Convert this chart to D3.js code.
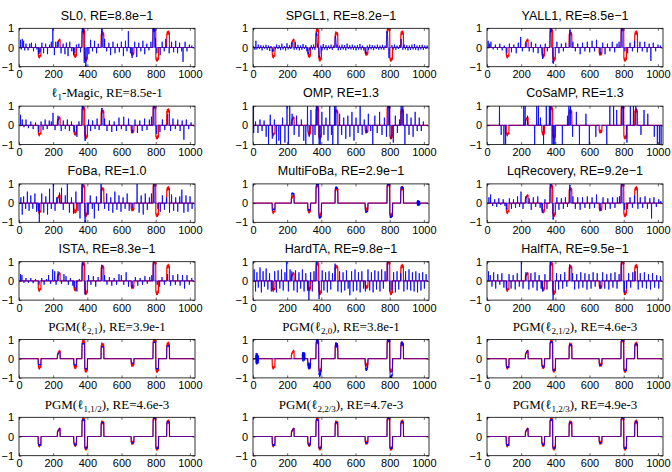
<!DOCTYPE html>
<html><head><meta charset="utf-8">
<script src="https://cdn.jsdelivr.net/npm/d3@7"></script>
<style>body{margin:0;background:#fff}svg{display:block}</style>
</head><body>
<svg id="chart" width="672" height="472"></svg>
<script>
const N = 1024;
const xTicks = [0, 200, 400, 600, 800, 1000];
const yTicks = [-1, 0, 1];

// ground-truth block-sparse signal (block starts, 16 values per block)
const blockStarts = [112, 224, 320, 368, 384, 480, 656, 784, 800, 864];
const trueBlocks = [
  [-0.38,-0.42,-0.46,-0.44,-0.47,-0.43,-0.40,-0.45,-0.48,-0.44,-0.41,-0.46,-0.45,-0.42,-0.44,-0.47],
  [0.22,0.26,0.25,0.29,0.31,0.30,0.34,0.33,0.36,0.38,0.37,0.40,0.39,0.42,0.41,0.43],
  [-0.32,-0.36,-0.40,-0.38,-0.43,-0.41,-0.44,-0.47,-0.45,-0.42,-0.46,-0.44,-0.41,-0.45,-0.43,-0.40],
  [0.80,0.84,0.88,0.85,0.89,0.86,0.83,0.88,0.91,0.87,0.85,0.89,0.86,0.84,0.88,0.85],
  [-0.54,-0.58,-0.62,-0.59,-0.63,-0.60,-0.57,-0.62,-0.64,-0.61,-0.58,-0.62,-0.59,-0.57,-0.61,-0.60],
  [0.66,0.70,0.74,0.71,0.75,0.72,0.69,0.74,0.76,0.73,0.70,0.74,0.72,0.69,0.73,0.71],
  [-0.27,-0.30,-0.34,-0.32,-0.35,-0.33,-0.30,-0.34,-0.36,-0.33,-0.31,-0.34,-0.32,-0.30,-0.33,-0.31],
  [0.88,0.92,0.95,0.93,0.97,0.94,0.91,0.96,0.98,0.95,0.92,0.96,0.94,0.91,0.95,0.93],
  [-0.55,-0.59,-0.63,-0.60,-0.64,-0.61,-0.58,-0.63,-0.65,-0.62,-0.59,-0.63,-0.60,-0.58,-0.62,-0.61],
  [0.70,0.73,0.77,0.75,0.78,0.76,0.73,0.77,0.80,0.76,0.74,0.78,0.75,0.73,0.77,0.75]
];

const titles = [
  "SL0, RE=8.8e\u22121", "SPGL1, RE=8.2e\u22121", "YALL1, RE=8.5e\u22121",
  "\u2113_{1}-Magic, RE=8.5e-1", "OMP, RE=1.3", "CoSaMP, RE=1.3",
  "FoBa, RE=1.0", "MultiFoBa, RE=2.9e\u22121", "LqRecovery, RE=9.2e\u22121",
  "ISTA, RE=8.3e\u22121", "HardTA, RE=9.8e\u22121", "HalfTA, RE=9.5e\u22121",
  "PGM(\u2113_{2,1}), RE=3.9e-1", "PGM(\u2113_{2,0}), RE=3.8e-1", "PGM(\u2113_{2,1/2}), RE=4.6e-3",
  "PGM(\u2113_{1,1/2}), RE=4.6e-3", "PGM(\u2113_{2,2/3}), RE=4.7e-3", "PGM(\u2113_{1,2/3}), RE=4.9e-3"
];
const serifTitles = [3, 12, 13, 14, 15, 16, 17];

// recovered signals: [startIndex, value or [values...]]
const sl0 = [[8,0.4],[13,-0.1],[18,0.45],[26,0.35],[33,-0.15],[40,0.2],[52,-0.15],[62,0.2],[72,0.25],[84,-0.2],[96,0.2],[104,-0.1],[114,[-0.3,-0.15,-0.35]],[122,-0.25],[133,0.25],[143,-0.3],[155,0.2],[166,-0.35],[178,0.15],[188,0.3],[197,1.0],[206,-0.4],[214,0.3],[228,0.3],[245,-0.3],[257,0.2],[268,-0.35],[276,0.25],[286,-0.45],[296,0.3],[308,-0.2],[318,-0.4],[326,-0.3],[335,0.15],[349,0.2],[359,-0.25],[368,[0.6,1.0,0.9,1.0,0.8,1.0,0.95,1.0,0.7,1.0]],[380,[-0.5,-0.8]],[388,[-0.6,-1.0,-0.9,-1.05,-0.7,-0.5]],[408,-0.35],[418,0.4],[429,-0.2],[441,0.35],[453,-0.3],[463,0.2],[482,[0.7,0.95,0.8,1.0,0.9,0.6]],[500,0.45],[512,-0.2],[525,0.25],[535,-0.4],[549,0.3],[561,-0.3],[575,0.2],[586,-0.25],[598,0.3],[610,-0.45],[622,0.35],[631,-0.2],[639,0.85],[651,-0.3],[660,[-0.4,-0.55,-0.3]],[676,0.3],[688,-0.5],[700,0.25],[712,-0.2],[724,0.35],[735,-0.35],[747,0.2],[759,-0.15],[771,0.3],[782,[0.7,1.0,0.9,1.0,0.85,1.0,0.9,1.0,0.8,1.0,0.6]],[798,0.5],[806,-0.3],[825,-0.4],[837,0.3],[849,-0.2],[858,0.45],[878,-0.3],[892,0.3],[904,-0.25],[916,0.35],[927,-0.3],[939,0.25],[951,-0.2],[959,-0.75],[971,0.3],[982,-0.2],[996,0.15],[1010,0.1]];

const spgl1 = [[3,0.08],[10,-0.12],[16,0.35],[22,-0.1],[30,0.15],[37,-0.08],[45,0.12],[52,-0.15],[60,0.1],[67,-0.06],[75,0.14],[82,-0.12],[90,0.1],[97,-0.18],[104,0.08],[112,[-0.12,-0.2,-0.15,-0.22,-0.1,-0.18,-0.15,-0.2]],[122,0.05],[130,-0.1],[137,0.15],[145,-0.08],[152,0.12],[160,-0.14],[168,0.2],[175,-0.1],[183,0.08],[190,-0.16],[198,0.22],[205,-0.1],[213,0.12],[220,-0.08],[226,[0.15,0.22,0.18,0.25,0.2,0.15]],[240,-0.12],[247,0.3],[254,-0.1],[262,0.14],[270,-0.15],[277,0.1],[285,-0.12],[292,0.18],[300,-0.08],[308,0.12],[314,-0.2],[320,[-0.2,-0.3,-0.25,-0.32,-0.28,-0.35,-0.3,-0.22]],[332,-0.15],[340,0.12],[347,-0.1],[354,0.15],[361,-0.12],[366,[0.3,0.5,0.65,0.75,0.7,0.78,0.6,0.72,0.55,0.4]],[378,0.2],[384,[-0.2,-0.4,-0.5,-0.45,-0.55,-0.48,-0.35,-0.25]],[396,0.1],[403,-0.15],[410,0.18],[418,-0.1],[426,0.12],[433,-0.14],[441,0.1],[448,-0.08],[456,0.15],[463,-0.12],[470,0.1],[478,[0.3,0.45,0.55,0.5,0.6,0.5,0.42,0.3]],[490,0.15],[498,-0.15],[505,0.1],[512,-0.12],[520,0.15],[527,-0.1],[535,0.12],[542,-0.15],[550,0.2],[557,-0.08],[565,0.12],[572,-0.1],[580,0.15],[587,-0.12],[595,0.1],[602,-0.15],[610,0.12],[617,-0.1],[625,0.18],[632,-0.12],[640,0.1],[647,-0.15],[656,[-0.2,-0.3,-0.25,-0.32,-0.28]],[668,0.1],[675,-0.12],[682,0.15],[690,-0.1],[697,0.12],[705,-0.14],[712,0.1],[720,-0.08],[727,0.15],[735,-0.12],[742,0.1],[750,-0.1],[757,0.14],[765,-0.12],[772,0.1],[780,[0.4,0.6,0.8,0.85,0.75,0.82,0.7,0.55,0.3]],[792,[-0.2,-0.4,-0.5,-0.55,-0.45,-0.35,-0.2]],[812,0.12],[820,-0.1],[827,0.15],[835,-0.12],[842,0.1],[850,-0.08],[857,0.12],[864,[0.2,0.35,0.45,0.4,0.3,0.2]],[876,-0.12],[884,0.15],[891,-0.1],[899,0.12],[906,-0.15],[914,0.1],[921,-0.12],[929,0.15],[936,-0.1],[944,0.18],[951,-0.12],[959,0.1],[966,-0.15],[974,0.12],[981,-0.1],[989,0.14],[996,-0.12],[1004,0.1],[1011,-0.08],[1018,0.1]];

const yall1 = [[6,0.35],[14,0.2],[22,0.3],[35,-0.1],[48,0.15],[60,-0.12],[74,0.2],[88,-0.15],[100,0.1],[114,[-0.25,-0.3,-0.2]],[130,0.2],[142,-0.25],[156,0.15],[170,-0.3],[182,0.25],[196,0.55],[206,-0.2],[228,0.25],[246,-0.2],[258,0.3],[270,-0.25],[284,0.2],[298,-0.3],[312,0.15],[324,[-0.4,-0.6,-0.3]],[340,0.2],[352,-0.2],[368,[0.7,1.0,0.9,1.0,0.8,0.95,1.0,0.85]],[384,[-0.5,-0.8,-0.7,-0.85,-0.6,-0.4]],[408,0.3],[420,-0.3],[434,0.2],[446,-0.2],[460,0.25],[482,[0.7,0.9,0.85,0.95,0.8]],[502,0.3],[516,-0.2],[530,0.2],[544,-0.35],[558,0.25],[572,-0.2],[586,0.3],[600,-0.25],[614,0.35],[628,-0.2],[640,0.4],[660,[-0.3,-0.35,-0.25]],[676,0.25],[690,-0.35],[704,0.2],[718,-0.2],[732,0.3],[746,-0.25],[760,0.2],[772,0.3],[784,[0.7,1.0,0.9,1.0,0.85,1.0,0.75]],[806,-0.2],[822,-0.3],[836,0.25],[850,-0.2],[862,0.35],[880,-0.25],[894,0.3],[908,-0.2],[922,0.3],[936,-0.25],[948,0.2],[958,-0.7],[972,0.25],[986,-0.2],[1000,0.15],[1014,0.1]];

const l1magic = [[8,0.55],[18,0.3],[28,-0.1],[40,0.3],[54,-0.15],[68,0.2],[82,-0.2],[96,0.15],[114,[-0.3,-0.35,-0.25]],[128,0.2],[140,-0.25],[152,0.3],[164,-0.2],[176,0.25],[188,0.2],[198,0.65],[210,-0.25],[226,[0.35,0.5,0.4]],[246,-0.3],[258,0.25],[270,-0.2],[282,0.3],[294,-0.3],[306,0.2],[322,[-0.3,-0.35]],[338,-0.6],[350,0.2],[368,[0.8,1.0,0.95,1.0,0.85,1.0,0.9]],[384,[-0.5,-0.8,-0.75,-0.8,-0.6]],[406,0.3],[418,-0.3],[430,0.25],[444,-0.2],[456,0.35],[468,-0.25],[482,[0.8,0.9,0.85,0.9]],[500,0.35],[514,-0.3],[528,0.25],[542,-0.35],[556,0.2],[570,-0.3],[584,0.4],[598,-0.2],[612,0.45],[626,-0.3],[640,0.35],[660,[-0.3,-0.4]],[678,0.3],[692,-0.4],[706,0.25],[720,-0.3],[734,0.35],[748,-0.25],[762,0.3],[774,0.45],[784,[0.8,1.0,0.9,1.0,0.9,1.0]],[804,[-0.3,-0.45,-0.4]],[824,-0.35],[838,0.3],[852,-0.25],[868,[0.5,0.6,0.55]],[886,-0.3],[900,0.35],[914,-0.2],[928,0.3],[942,-0.3],[954,0.25],[964,-0.75],[978,0.3],[992,-0.2],[1006,0.15]];

const omp = [[2,[1.2,-0.4]],[14,0.2],[28,-0.4],[40,0.3],[52,-0.3],[64,0.25],[76,-0.6],[90,-1.2],[100,0.55],[112,-0.7],[124,0.3],[136,-1.2],[150,-0.8],[160,-1.2],[172,0.4],[186,-0.9],[198,1.2],[206,-1.2],[214,1.2],[228,0.6],[240,-0.5],[254,0.5],[268,-0.6],[282,0.3],[296,-0.8],[308,-1.2],[318,1.2],[328,-0.6],[338,0.8],[350,-1.2],[362,-0.5],[370,1.2],[378,1.2],[386,-1.2],[392,-1.2],[402,0.7],[414,-0.5],[426,0.4],[438,-0.8],[448,1.2],[458,-0.5],[466,-1.2],[476,1.2],[484,1.2],[496,-1.2],[506,0.6],[518,-0.5],[530,0.4],[542,-0.7],[554,0.5],[566,-0.6],[578,0.7],[590,-0.8],[602,0.4],[614,-0.4],[626,1.2],[638,-0.5],[650,0.3],[662,-0.4],[674,0.6],[688,-0.3],[700,-1.2],[712,0.5],[726,-0.4],[740,0.7],[754,-0.5],[768,0.4],[780,-0.6],[790,1.2],[798,1.2],[808,-0.7],[820,-0.9],[832,0.5],[844,-0.4],[856,0.3],[866,1.2],[876,1.2],[888,-1.2],[900,0.6],[912,-0.5],[924,0.4],[936,-0.6],[948,0.7],[960,-0.3],[972,0.4],[984,-0.3],[996,0.2]];

const cosamp = [[72,1.2],[82,-0.5],[98,-1.2],[108,-1.2],[214,1.2],[222,1.2],[236,0.5],[278,-1.2],[290,1.2],[300,1.2],[312,0.4],[330,-1.2],[346,1.2],[364,1.2],[372,1.2],[380,-1.2],[388,-1.2],[396,-1.2],[440,-1.2],[470,0.5],[478,1.2],[488,1.2],[500,-0.6],[522,0.7],[540,-1.2],[578,0.6],[598,-1.2],[636,-0.6],[700,-1.2],[718,1.2],[740,1.2],[758,0.8],[788,1.2],[796,1.2],[818,-0.9],[838,1.2],[856,1.2],[870,1.2],[900,-0.5],[918,0.8],[940,0.6],[978,-0.6],[996,-1.2],[1008,-1.2],[1018,-1.0]];

const foba = [[10,0.3],[18,-0.6],[26,0.35],[38,-0.3],[48,0.6],[58,-0.4],[68,0.4],[80,-0.3],[92,0.5],[102,-0.45],[112,[-0.3,-0.4]],[118,-1.2],[132,0.5],[144,-0.5],[156,0.35],[166,-0.6],[178,0.75],[188,-0.3],[200,1.2],[210,-0.4],[220,0.3],[236,0.55],[248,0.8],[258,-0.35],[270,0.4],[282,1.2],[294,-0.5],[306,0.3],[318,-0.55],[332,0.6],[344,-0.4],[356,-0.8],[366,[1.2,1.1,1.2,1.0,1.2]],[384,[-1.2,-1.0,-1.2,-0.9,-1.2,-1.0]],[404,-0.6],[416,0.4],[428,-0.3],[440,-0.8],[452,0.35],[464,-0.4],[478,[1.2,1.0,1.2,1.1]],[500,-0.3],[512,0.5],[524,-0.4],[536,0.3],[548,-0.5],[560,0.6],[572,-0.35],[584,0.4],[596,-0.45],[608,0.3],[620,-0.3],[632,0.5],[644,-0.4],[662,-0.25],[690,1.2],[702,-0.5],[714,0.4],[726,-0.6],[738,0.5],[750,-0.35],[762,0.3],[774,0.5],[786,[1.2,1.0,1.2,1.1,1.2]],[812,-0.3],[826,-0.45],[838,0.4],[850,-0.35],[862,0.3],[880,-0.5],[892,0.45],[904,-0.4],[916,0.3],[928,-0.45],[940,0.35],[952,0.7],[964,-0.5],[976,0.4],[988,-0.45],[1000,0.35],[1012,-0.3]];

const multifoba = [
  [112,[-0.30,-0.36,-0.40,-0.38,-0.35,-0.30,-0.28,-0.33,-0.36,-0.32,-0.30,-0.34,-0.33,-0.30,-0.32,-0.35]],
  [224,[0.40,0.48,0.52,0.45,0.55,0.50,0.46,0.52,0.54,0.48,0.45,0.50,0.53,0.47,0.49,0.51]],
  [320,[-0.30,-0.35,-0.40,-0.38,-0.36,-0.33,-0.38,-0.40,-0.37,-0.34,-0.39,-0.36,-0.33,-0.37,-0.35,-0.32]],
  [368,[0.80,0.90,1.00,0.95,1.05,0.98,0.92,1.00,1.05,0.97,0.94,1.00,0.96,0.92,0.98,0.95]],
  [384,[-0.60,-0.70,-0.78,-0.72,-0.80,-0.75,-0.68,-0.76,-0.80,-0.74,-0.70,-0.76,-0.72,-0.68,-0.74,-0.70]],
  [480,[0.70,0.78,0.82,0.76,0.85,0.80,0.74,0.82,0.86,0.79,0.75,0.81,0.78,0.74,0.80,0.77]],
  [656,[-0.35,-0.42,-0.48,-0.44,-0.50,-0.46,-0.40,-0.47,-0.50,-0.45,-0.42,-0.47,-0.44,-0.40,-0.45,-0.42]],
  [784,[0.85,0.95,1.02,0.97,1.05,0.99,0.93,1.00,1.05,0.98,0.94,1.00,0.97,0.93,0.98,0.95]],
  [800,[-0.55,-0.68,-0.75,-0.70,-0.78,-0.72,-0.65,-0.74,-0.78,-0.71,-0.67,-0.73,-0.70,-0.66,-0.72,-0.68]],
  [864,[0.70,0.80,0.85,0.78,0.86,0.82,0.76,0.84,0.87,0.80,0.77,0.83,0.79,0.75,0.81,0.78]],
  [960,[0.10,-0.12,0.15,-0.10,0.12,-0.15,0.08,-0.12,0.14,-0.08,0.10,-0.13,0.12,-0.10,0.09,-0.11]]
];

const lqrecovery = [[10,0.3],[20,0.45],[32,-0.15],[44,0.2],[56,-0.2],[68,0.25],[80,-0.1],[94,0.2],[104,-0.15],[114,[-0.3,-0.25,-0.35]],[130,0.25],[142,-0.3],[154,0.2],[166,-0.25],[178,0.35],[190,-0.2],[198,0.6],[210,-0.3],[226,[0.3,0.35]],[246,0.25],[258,-0.35],[270,0.3],[284,-0.2],[296,0.35],[310,-0.25],[322,[-0.45,-0.5]],[338,0.2],[350,-0.3],[368,[0.8,1.0,0.95,1.0,0.9,1.0,0.8]],[384,[-0.6,-0.85,-0.8,-0.85,-0.7,-0.5]],[408,0.3],[420,-0.35],[434,0.25],[446,-0.3],[458,0.3],[470,-0.2],[482,[0.8,0.95,0.9,0.95,0.85]],[502,0.35],[516,-0.3],[530,0.3],[544,-0.35],[558,0.3],[572,-0.25],[586,0.35],[600,-0.3],[614,0.3],[628,-0.25],[640,0.45],[660,[-0.3,-0.4,-0.25]],[678,0.3],[692,-0.35],[706,0.25],[720,-0.3],[734,0.3],[748,-0.25],[762,0.3],[774,0.35],[784,[0.8,1.0,0.95,1.0,0.9,1.0]],[804,[-0.3,-0.35]],[822,-0.3],[836,0.3],[850,-0.25],[862,0.4],[882,-0.3],[896,0.3],[910,-0.25],[924,0.35],[938,-0.3],[952,0.25],[962,-0.8],[976,0.3],[990,-0.2],[1004,0.2],[1016,0.1]];

const ista = [[8,0.35],[16,0.3],[28,-0.1],[40,0.15],[54,-0.1],[68,0.15],[82,-0.12],[96,0.1],[116,[-0.2,-0.15]],[132,0.15],[146,-0.2],[160,0.1],[172,0.3],[184,-0.15],[196,0.6],[208,0.5],[216,-0.2],[226,[0.4,0.45,0.5,0.4]],[248,-0.15],[262,0.35],[274,0.25],[288,-0.2],[300,0.15],[314,-0.25],[324,[-0.3,-0.35]],[338,-0.55],[352,0.1],[368,[0.8,0.95,0.9,0.95,0.85,0.9]],[384,[-0.5,-0.7,-0.65,-0.7,-0.55]],[406,0.3],[420,-0.2],[434,0.25],[448,-0.3],[462,0.2],[482,[0.75,0.8,0.78,0.8]],[500,0.3],[514,-0.2],[528,0.2],[542,-0.25],[556,0.15],[570,-0.2],[584,0.35],[598,0.3],[612,-0.2],[626,0.45],[640,-0.3],[660,[-0.3,-0.35,-0.3]],[680,0.2],[694,-0.25],[708,0.15],[722,-0.2],[736,0.25],[750,-0.15],[764,0.2],[776,0.3],[784,[0.85,1.0,0.95,1.0,0.9]],[808,-0.2],[822,-0.3],[836,0.2],[850,-0.2],[868,[0.3,0.35]],[886,-0.25],[900,0.3],[914,-0.2],[928,0.35],[942,-0.25],[956,0.3],[968,-0.4],[982,0.3],[996,-0.2],[1010,0.15]];

const hardta = [[6,0.6],[14,-0.55],[22,0.45],[30,-0.35],[40,0.7],[48,-0.6],[58,0.5],[66,-0.3],[76,0.65],[86,-0.45],[96,0.4],[106,-0.55],[116,[-0.45,-0.5]],[126,0.5],[136,-0.6],[146,0.55],[156,-0.4],[166,0.6],[176,-0.5],[186,0.45],[196,1.1],[206,-0.55],[216,0.6],[226,[0.5,0.4]],[238,-0.5],[248,0.55],[258,-0.6],[268,0.45],[278,-0.4],[288,0.6],[298,-0.55],[308,0.4],[318,-0.5],[326,-1.05],[336,0.45],[346,-0.55],[356,0.5],[368,[0.7,1.0,0.9,1.05,0.8]],[384,[-0.6,-0.9,-0.95,-0.8,-0.6]],[404,0.55],[414,-0.5],[424,0.45],[434,-0.6],[444,0.5],[454,-0.45],[464,0.4],[478,[0.8,0.9,0.85]],[496,-0.55],[506,0.5],[516,-0.6],[526,0.45],[536,-0.5],[546,0.55],[556,-0.4],[566,-0.75],[576,0.5],[586,-0.55],[596,0.6],[606,-0.5],[616,0.45],[626,-0.6],[636,0.5],[646,-0.4],[656,[-0.5,-0.55]],[672,0.6],[682,-0.5],[692,0.45],[702,-0.6],[712,0.55],[722,-0.45],[732,0.5],[742,-0.55],[752,0.6],[762,-0.4],[772,0.5],[784,[0.8,1.05,0.9,1.0]],[800,-0.55],[812,-0.5],[822,0.45],[832,-0.6],[842,0.5],[852,-0.45],[864,0.4],[882,-0.55],[892,0.5],[902,-0.45],[912,0.6],[922,-0.5],[932,0.45],[942,-0.55],[952,0.5],[962,-0.6],[972,0.4],[982,-0.5],[992,0.45],[1002,-0.4],[1012,0.35]];

const halfta = [[8,0.5],[18,0.3],[28,-0.3],[38,0.45],[50,-0.4],[62,0.35],[74,-0.2],[86,0.4],[98,-0.35],[114,[-0.4,-0.45]],[128,0.35],[140,-0.4],[152,0.3],[164,-0.45],[176,0.4],[188,-0.3],[200,1.05],[210,-0.4],[226,[0.4,0.45]],[244,-0.45],[256,0.4],[268,-0.35],[280,0.45],[292,-0.5],[304,0.3],[316,-0.4],[324,-0.55],[338,0.35],[350,-0.45],[368,[0.8,1.0,0.9,1.0,0.85]],[384,[-0.6,-0.95,-1.0,-0.8,-0.6]],[406,0.4],[418,-0.45],[430,0.35],[442,-0.4],[454,0.45],[466,-0.3],[482,[0.8,0.85,0.8]],[500,0.4],[512,-0.45],[524,0.35],[536,-0.4],[548,0.45],[560,-0.35],[572,0.4],[584,-0.45],[596,0.35],[608,-0.4],[620,0.45],[632,-0.3],[644,0.4],[660,[-0.35,-0.4]],[676,0.45],[688,-0.4],[700,0.35],[712,-0.45],[724,0.4],[736,-0.35],[748,0.45],[760,-0.4],[772,0.35],[784,[0.85,1.0,0.95,1.0]],[802,[-0.5,-0.6]],[816,-0.4],[828,0.4],[840,-0.35],[852,0.45],[866,0.5],[884,-0.45],[896,0.4],[908,-0.35],[920,0.45],[932,-0.4],[944,0.35],[956,-0.45],[968,0.4],[980,-0.35],[992,0.3],[1004,-0.4],[1014,0.25]];

const pgmL21 = [
  [112,[-0.25,-0.29,-0.33,-0.31,-0.34,-0.30,-0.27,-0.32,-0.35,-0.31,-0.28,-0.33,-0.32,-0.29,-0.31,-0.34]],
  [224,[0.15,0.19,0.18,0.22,0.24,0.23,0.27,0.26,0.29,0.31,0.30,0.33,0.32,0.35,0.34,0.36]],
  [320,[-0.22,-0.26,-0.30,-0.28,-0.33,-0.31,-0.34,-0.37,-0.35,-0.32,-0.36,-0.34,-0.31,-0.35,-0.33,-0.30]],
  [368,[0.70,0.75,0.79,0.76,0.80,0.77,0.74,0.79,0.82,0.78,0.76,0.80,0.77,0.75,0.79,0.76]],
  [384,[-0.45,-0.50,-0.54,-0.51,-0.55,-0.52,-0.49,-0.54,-0.56,-0.53,-0.50,-0.54,-0.51,-0.49,-0.53,-0.52]],
  [480,[0.56,0.60,0.64,0.61,0.65,0.62,0.59,0.64,0.66,0.63,0.60,0.64,0.62,0.59,0.63,0.61]],
  [656,[-0.18,-0.21,-0.25,-0.23,-0.26,-0.24,-0.21,-0.25,-0.27,-0.24,-0.22,-0.25,-0.23,-0.21,-0.24,-0.22]],
  [784,[0.79,0.83,0.86,0.84,0.88,0.85,0.82,0.87,0.89,0.86,0.83,0.87,0.85,0.82,0.86,0.84]],
  [800,[-0.46,-0.50,-0.54,-0.51,-0.55,-0.52,-0.49,-0.54,-0.56,-0.53,-0.50,-0.54,-0.51,-0.49,-0.53,-0.52]],
  [864,[0.60,0.63,0.67,0.65,0.68,0.66,0.63,0.67,0.70,0.66,0.64,0.68,0.65,0.63,0.67,0.65]]
];

const pgmL20 = [
  [16,[0.20,-0.25,0.30,-0.20,0.25,-0.30,0.15,-0.25,0.28,-0.18,0.22,-0.28,0.18,-0.22,0.15,-0.12]],
  [288,[0.25,-0.10,0.35,0.05,0.30,-0.15,0.32,0.10,0.28,-0.05,0.35,0.08,0.25,-0.10,0.30,0.12]],
  [320,[-0.15,-0.35,-0.25,-0.50,-0.30,-0.55,-0.20,-0.45,-0.35,-0.55,-0.25,-0.48,-0.30,-0.52,-0.22,-0.40]],
  [368,[0.60,0.85,0.95,1.05,0.90,1.10,0.85,1.00,1.05,0.92,0.80,0.98,0.75,0.90,0.65,0.55]],
  [384,[-0.40,-0.65,-0.85,-0.75,-0.95,-0.80,-0.70,-0.90,-0.92,-0.78,-0.65,-0.85,-0.60,-0.70,-0.50,-0.35]],
  [480,[0.45,0.70,0.60,0.82,0.70,0.85,0.62,0.80,0.75,0.58,0.82,0.66,0.78,0.55,0.70,0.50]],
  [656,[-0.30,-0.45,-0.55,-0.50,-0.62,-0.55,-0.48,-0.60,-0.64,-0.52,-0.45,-0.58,-0.50,-0.40,-0.48,-0.35]],
  [784,[0.70,0.90,1.05,0.95,1.10,1.00,0.92,1.05,1.10,0.98,0.88,1.02,0.94,0.85,0.95,0.80]],
  [800,[-0.60,-0.85,-1.05,-0.92,-1.10,-0.98,-0.88,-1.02,-1.08,-0.95,-0.85,-1.00,-0.90,-0.80,-0.88,-0.70]],
  [864,[0.55,0.75,0.85,0.80,0.90,0.82,0.72,0.86,0.88,0.78,0.70,0.84,0.76,0.68,0.78,0.62]]
];

// near-exact recoveries (RE ~ 5e-3): visually identical to the ground truth blocks
const truthEntries = blockStarts.map((s, i) => [s, trueBlocks[i]]);
const pgmL212 = truthEntries, pgmL112 = truthEntries, pgmL223 = truthEntries, pgmL123 = truthEntries;

const recovered = [sl0, spgl1, yall1, l1magic, omp, cosamp, foba, multifoba, lqrecovery,
  ista, hardta, halfta, pgmL21, pgmL20, pgmL212, pgmL112, pgmL223, pgmL123];

// ---- drawing ----
function toSignal(entries) {
  const a = new Array(N).fill(0);
  entries.forEach(([s, v]) => {
    (Array.isArray(v) ? v : [v]).forEach((val, k) => { if (s + k < N) a[s + k] = val; });
  });
  return a;
}

const svg = d3.select("#chart");
svg.append("rect").attr("width", 672).attr("height", 472).attr("fill", "#fff");

const colLeft = [19, 253, 487];
const panelW = 176, panelH = 38.4;
const SANS = "'Liberation Sans', Arial, Helvetica, sans-serif";
const SERIF = "'Liberation Serif', 'Times New Roman', serif";

const x = d3.scaleLinear().domain([0, 1030]).range([0, panelW]);
const y = d3.scaleLinear().domain([-1, 1]).range([panelH, 0]);
const line = d3.line().x((d, i) => x(i + 1)).y(d => y(d));
const truthSignal = toSignal(truthEntries);

recovered.forEach((entries, p) => {
  const r = Math.floor(p / 3), c = p % 3;
  const g = svg.append("g").attr("transform", `translate(${colLeft[c]},${28.3 + 77.8 * r})`);
  const cid = "clip" + p;
  g.append("clipPath").attr("id", cid).append("rect").attr("width", panelW).attr("height", panelH);
  const plot = g.append("g").attr("clip-path", `url(#${cid})`);
  plot.append("path").datum(truthSignal).attr("d", line)
    .attr("fill", "none").attr("stroke", "#ff0000").attr("stroke-width", 1.2).attr("stroke-linejoin", "miter");
  plot.append("path").datum(toSignal(entries)).attr("d", line)
    .attr("fill", "none").attr("stroke", "#0000ff").attr("stroke-width", 1).attr("stroke-opacity", 0.8);

  // axes
  const xb = g.append("g").attr("transform", `translate(0,${panelH})`)
    .call(d3.axisBottom(x).tickValues(xTicks).tickFormat(d3.format("d")).tickSizeInner(-2.5).tickSizeOuter(0).tickPadding(5));
  const xt = g.append("g").call(d3.axisTop(x).tickValues(xTicks).tickSizeInner(-2.5).tickSizeOuter(0).tickFormat(""));
  const yl = g.append("g").call(d3.axisLeft(y).tickValues(yTicks).tickSizeInner(-2.5).tickSizeOuter(0).tickPadding(5)
    .tickFormat(d => d < 0 ? "\u2212" + Math.abs(d) : String(d)));
  const yr = g.append("g").attr("transform", `translate(${panelW},0)`)
    .call(d3.axisRight(y).tickValues(yTicks).tickSizeInner(-2.5).tickSizeOuter(0).tickFormat(""));
  [xb, xt, yl, yr].forEach(a => {
    a.select(".domain").remove();
    a.selectAll("line").attr("stroke", "#000").attr("stroke-width", 0.6);
    a.selectAll("text").attr("font-family", SANS).attr("font-size", 11).attr("fill", "#000");
  });
  xb.selectAll("text").attr("dy", "0.6em");
  g.append("rect").attr("width", panelW).attr("height", panelH)
    .attr("fill", "none").attr("stroke", "#000").attr("stroke-width", 0.8);

  // title with optional subscript
  const serif = serifTitles.includes(p);
  const t = g.append("text").attr("x", panelW / 2).attr("y", -8.8).attr("text-anchor", "middle")
    .attr("font-family", serif ? SERIF : SANS).attr("font-size", serif ? 13 : 12.5).attr("fill", "#000");
  const parts = titles[p].split(/_\{([^}]*)\}/);
  parts.forEach((s, k) => {
    if (!s) return;
    if (k % 2 === 1) t.append("tspan").attr("dy", 3).attr("font-size", 9).text(s);
    else t.append("tspan").attr("dy", k > 0 ? -3 : 0).text(s);
  });
});
</script>
</body></html>
